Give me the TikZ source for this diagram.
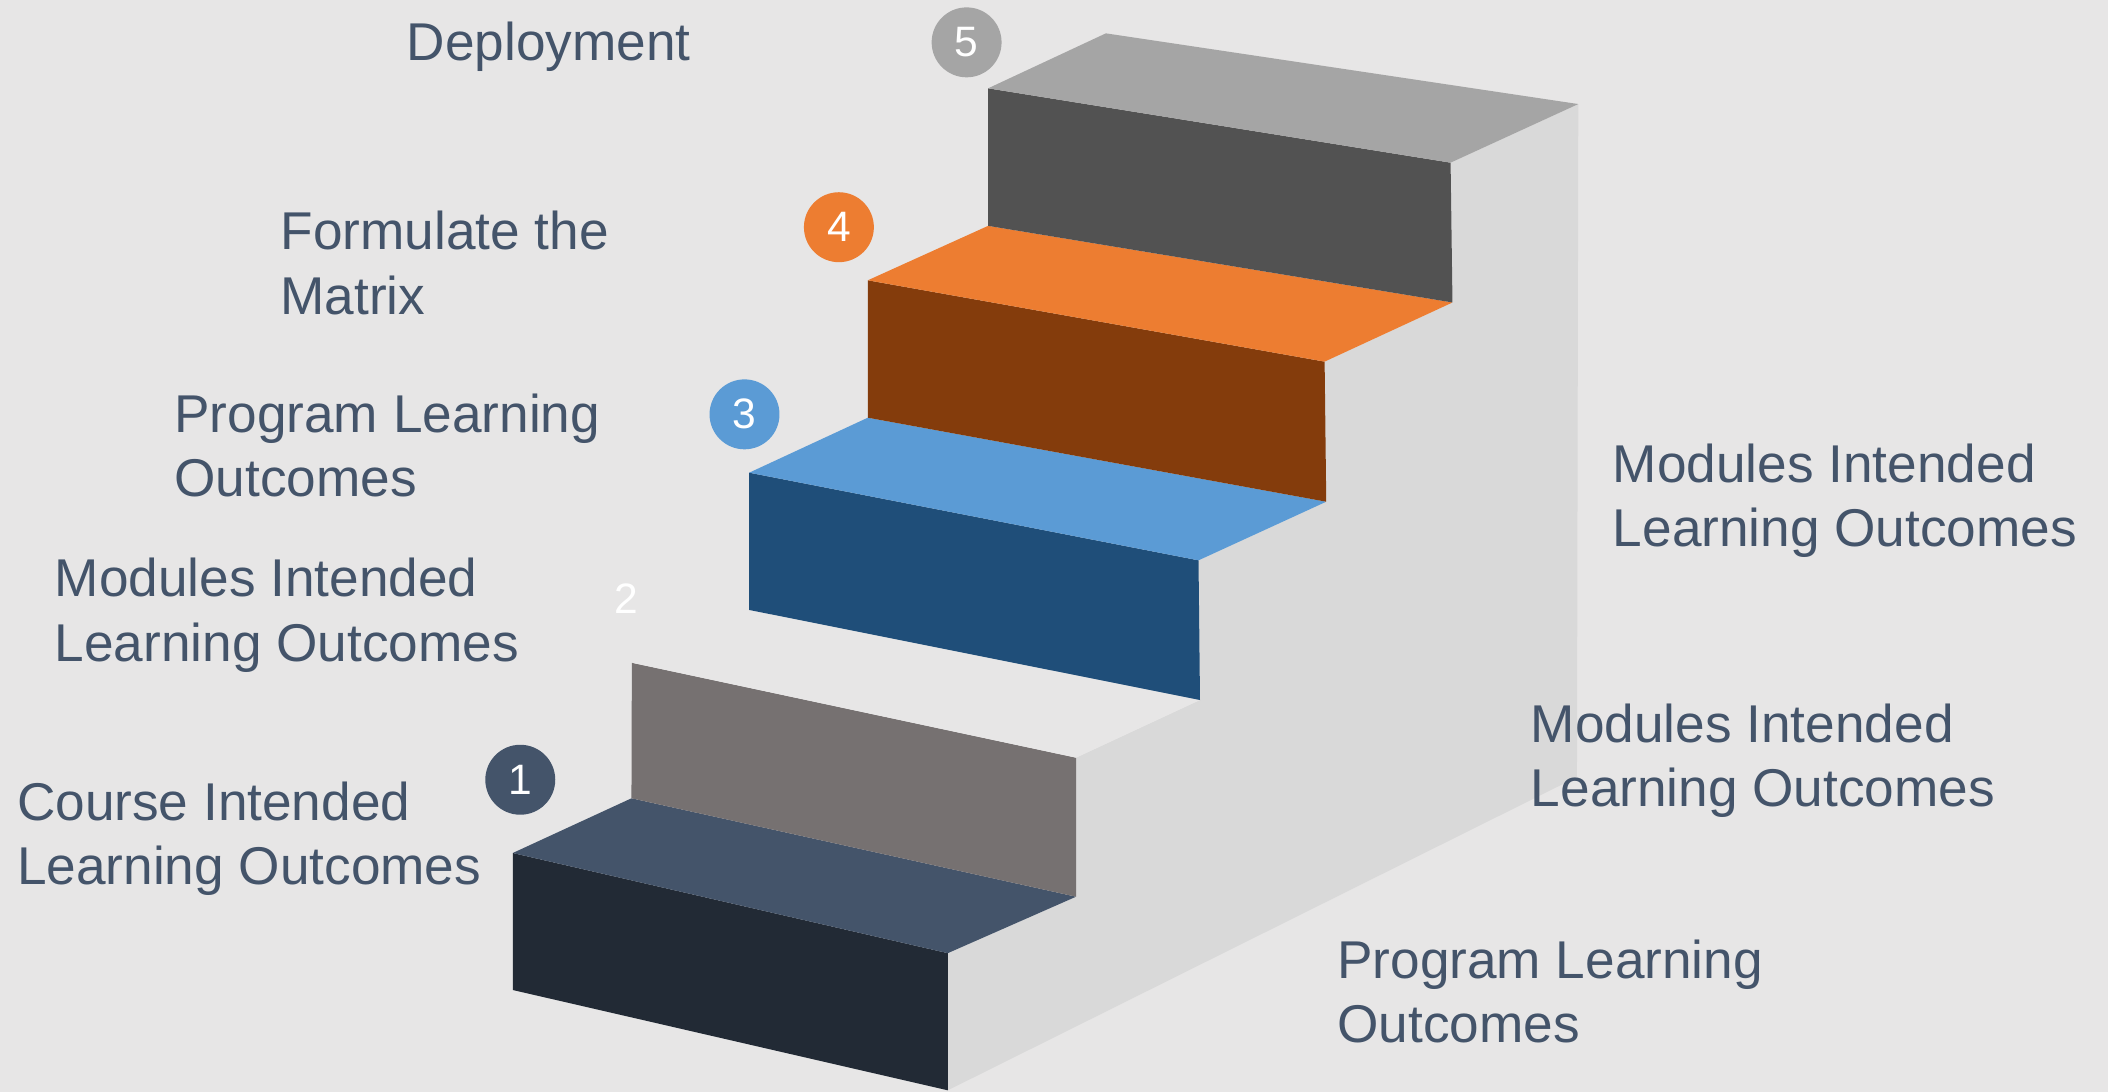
\documentclass[tikz,border=0pt]{standalone}
\usepackage{fontspec}
\setmainfont{Liberation Sans}
\usepackage{xcolor}
\definecolor{bgGray}{HTML}{E7E6E6}
\definecolor{wallGray}{HTML}{D9D9D9}
\definecolor{textSlate}{HTML}{44546A}
\definecolor{stepOneTop}{HTML}{44546A}
\definecolor{stepOneFront}{HTML}{222A35}
\definecolor{stepTwoFront}{HTML}{767171}
\definecolor{stepThreeTop}{HTML}{5B9BD5}
\definecolor{stepThreeFront}{HTML}{1F4E79}
\definecolor{stepFourTop}{HTML}{ED7D31}
\definecolor{stepFourFront}{HTML}{843C0C}
\definecolor{stepFiveTop}{HTML}{A5A5A5}
\definecolor{stepFiveFront}{HTML}{525252}

\begin{document}
\begin{tikzpicture}[x=0.01cm, y=-0.01cm,
    steptext/.style={anchor=north west, inner sep=0pt, align=left, text=textSlate, font=\fontsize{11.25}{13.6}\selectfont},
    badge/.style={circle, minimum size=0.52cm, inner sep=0pt, text=white, font=\fontsize{9}{10}\selectfont}]
    % Background
    \fill[bgGray] (0,0) rectangle (1568,812);
    \useasboundingbox (0,0) rectangle (1568,812);

    % Side wall of the stairs
    \fill[wallGray] (1079,121) -- (1174,77.4) -- (1173,578) -- (705,811) -- (705,709) -- (800.4,667)
        -- (800.4,563.6) -- (892.6,520.7) -- (891.5,416.8) -- (986.5,373.2) -- (985.3,269) -- (1080.4,225) -- cycle;

    % Step 1
    \fill[stepOneFront] (381.4,634.5) -- (705,709) -- (705,811) -- (381.4,736.4) -- cycle;
    \fill[stepOneTop] (381.4,634.5) -- (469.7,593.8) -- (800.4,667) -- (705,709) -- cycle;
    % Step 2
    \fill[stepTwoFront] (470,493) -- (800.4,563.6) -- (800.4,667) -- (469.7,593.8) -- cycle;
    \fill[bgGray] (470,493) -- (557.3,453.7) -- (892.6,520.7) -- (800.4,563.6) -- cycle;
    % Step 3
    \fill[stepThreeFront] (557.3,351.6) -- (891.5,416.8) -- (892.6,520.7) -- (557.3,453.7) -- cycle;
    \fill[stepThreeTop] (557.3,351.6) -- (645.5,310.7) -- (986.5,373.2) -- (891.5,416.8) -- cycle;
    % Step 4
    \fill[stepFourFront] (645.5,208.5) -- (985.3,269) -- (986.5,373.2) -- (645.5,310.7) -- cycle;
    \fill[stepFourTop] (645.5,208.5) -- (735,168) -- (1080.4,225) -- (985.3,269) -- cycle;
    % Step 5
    \fill[stepFiveFront] (735,65.7) -- (1079,121) -- (1080.4,225) -- (735,168) -- cycle;
    \fill[stepFiveTop] (735,65.7) -- (822.6,24.8) -- (1174,77.4) -- (1079,121) -- cycle;

    % Numbers
    \node[badge, fill=stepOneTop] (num1) at (387,580) {1};
    \node[badge] (num2) at (466,445) {2};
    \node[badge, fill=stepThreeTop] (num3) at (553.8,308.2) {3};
    \node[badge, fill=stepFourTop] (num4) at (624,169) {4};
    \node[badge, fill=stepFiveTop] (num5) at (719,31.5) {5};

    % Left labels
    \node[steptext] (deploy) at (302,16) {Deployment};
    \node[steptext] (matrix) at (208,156.5) {Formulate the\\Matrix};
    \node[steptext] (ploLeft) at (129,292) {Program Learning\\Outcomes};
    \node[steptext] (miloLeft) at (40,414.5) {Modules Intended\\Learning Outcomes};
    \node[steptext] (cilo) at (12,581) {Course Intended\\Learning Outcomes};

    % Right labels
    \node[steptext] (miloTop) at (1199,329.5) {Modules Intended\\Learning Outcomes};
    \node[steptext] (miloMid) at (1138,523) {Modules Intended\\Learning Outcomes};
    \node[steptext] (ploRight) at (994,698.5) {Program Learning\\Outcomes};
\end{tikzpicture}
\end{document}
